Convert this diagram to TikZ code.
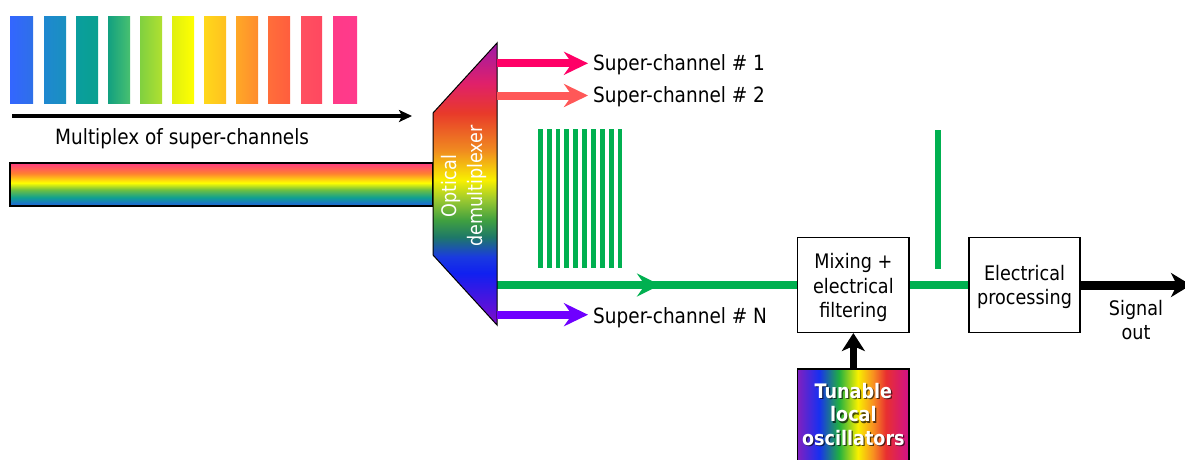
\documentclass[tikz,border=0pt]{standalone}
\usepackage{fontspec}
\setmainfont{DejaVu Sans}[FakeStretch=0.88]
\usetikzlibrary{arrows.meta,backgrounds}

% palette
\definecolor{sigGreen}{HTML}{00B050}
\definecolor{scOne}{HTML}{FF0066}
\definecolor{scTwo}{HTML}{FF5858}
\definecolor{scN}{HTML}{6F00FF}
% spectral bars (left / right tones)
\definecolor{ba}{HTML}{3366FF}\definecolor{bA}{HTML}{2E70E8}
\definecolor{bb}{HTML}{1E88D0}\definecolor{bB}{HTML}{1A90C0}
\definecolor{bc}{HTML}{0A9E9E}\definecolor{bC}{HTML}{0AA090}
\definecolor{bd}{HTML}{12A080}\definecolor{bD}{HTML}{48C070}
\definecolor{be}{HTML}{80D040}\definecolor{bE}{HTML}{B0E030}
\definecolor{bf}{HTML}{E0F010}\definecolor{bF}{HTML}{FFFF00}
\definecolor{bg}{HTML}{FFD81A}\definecolor{bG}{HTML}{FFC020}
\definecolor{bh}{HTML}{FFA826}\definecolor{bH}{HTML}{FF8C2E}
\definecolor{bi}{HTML}{FF6E3A}\definecolor{bI}{HTML}{FF5E3E}
\definecolor{bj}{HTML}{FF5060}\definecolor{bJ}{HTML}{FF4860}
\definecolor{bk}{HTML}{FF3A88}\definecolor{bK}{HTML}{FF3A8C}
% multiplex band
\definecolor{rbBlue}{HTML}{2060E0}
\definecolor{rbTeal}{HTML}{10A090}
\definecolor{rbGreen}{HTML}{70C040}
\definecolor{rbYellow}{HTML}{FFFF00}
\definecolor{rbOrange}{HTML}{FF8030}
\definecolor{rbPink}{HTML}{FF3A80}
% demultiplexer body
\definecolor{dmA}{HTML}{8010C0}
\definecolor{dmB}{HTML}{6010D8}
\definecolor{dmC}{HTML}{1020F0}
\definecolor{dmD}{HTML}{1A3AE0}
\definecolor{dmE}{HTML}{1E7868}
\definecolor{dmF}{HTML}{40A040}
\definecolor{dmG}{HTML}{9AC830}
\definecolor{dmH}{HTML}{F8F000}
\definecolor{dmI}{HTML}{F08A20}
\definecolor{dmJ}{HTML}{E83A2A}
\definecolor{dmK}{HTML}{E0206A}
\definecolor{dmL}{HTML}{9E1AA8}
% local oscillator bank
\definecolor{loA}{HTML}{8020C0}
\definecolor{loB}{HTML}{1830F0}
\definecolor{loC}{HTML}{20B040}
\definecolor{loD}{HTML}{F8F000}
\definecolor{loE}{HTML}{F89020}
\definecolor{loF}{HTML}{E83030}
\definecolor{loG}{HTML}{D0108A}

\pgfdeclareverticalshading{rainbowband}{100bp}{color(0bp)=(rbBlue); color(25bp)=(rbBlue); color(35bp)=(rbTeal); color(44bp)=(rbGreen); color(52bp)=(rbYellow); color(63bp)=(rbOrange); color(75bp)=(rbPink); color(100bp)=(rbPink)}
\pgfdeclareverticalshading{demuxband}{100bp}{color(0bp)=(dmA); color(25bp)=(dmA); color(27.7bp)=(dmB); color(34.2bp)=(dmC); color(37.1bp)=(dmD); color(40.6bp)=(dmE); color(43.6bp)=(dmF); color(47.2bp)=(dmG); color(50.7bp)=(dmH); color(56bp)=(dmI); color(62.6bp)=(dmJ); color(67.9bp)=(dmK); color(75bp)=(dmL); color(100bp)=(dmL)}
\pgfdeclarehorizontalshading{loband}{100bp}{color(0bp)=(loA); color(25bp)=(loA); color(34.5bp)=(loB); color(43.5bp)=(loC); color(52bp)=(loD); color(58.8bp)=(loE); color(64.6bp)=(loF); color(75bp)=(loG); color(100bp)=(loG)}

\begin{document}
\begin{tikzpicture}[x=1pt,y=-1pt,
  chanlabel/.style={font=\fontsize{21}{25}\selectfont, inner sep=0pt, anchor=base west},
  boxtxt/.style={font=\fontsize{20}{24.5}\selectfont, align=center, inner sep=0pt},
  blk/.style={draw=black, line width=1.5pt, fill=white, minimum width=111.3pt, minimum height=94.6pt, inner sep=0pt},
  chan/.style={line width=8pt, -{Stealth[length=24pt,width=23pt,inset=8pt]}},
  fiber/.style={sigGreen, line width=8pt},
  stripe/.style={sigGreen, line width=4.8pt}]
\useasboundingbox (0,0) rectangle (1185,459);

% spectral slots of the incoming super-channels
\foreach \xa/\xb/\cl/\cr in {10/33/ba/bA, 44/66/bb/bB, 76/98/bc/bC, 108/130/bd/bD, 140/162/be/bE,
    172/194/bf/bF, 204/226/bg/bG, 236/258/bh/bH, 268/290/bi/bI, 301/322/bj/bJ, 333/357/bk/bK}
  \shade[left color=\cl, right color=\cr] (\xa,16) rectangle (\xb,103);

\coordinate (mxa) at (12,116);
\coordinate (mxb) at (412,116);
\draw[line width=4pt, -{Stealth[length=13pt,width=12pt,inset=3pt]}] (mxa) -- (mxb);
\node[chanlabel] (mxtxt) at (55,144) {Multiplex of super-channels};

% multiplexed input band
\shadedraw[shading=rainbowband, draw=black, line width=1.2pt] (10,163) rectangle (433,206);

% optical demultiplexer
\coordinate (dmTL) at (433,113);
\coordinate (dmTR) at (497,43);
\coordinate (dmBR) at (497,325);
\coordinate (dmBL) at (433,255);
\shadedraw[shading=demuxband, draw=black, line width=1pt] (dmTL) -- (dmTR) -- (dmBR) -- (dmBL) -- cycle;
\node[boxtxt, text=white, rotate=90, font=\fontsize{20}{26}\selectfont] (dmtxt) at (464,186) {Optical\\demultiplexer};

\coordinate (o1) at (497,63.3);
\coordinate (o2) at (497,95.5);
\coordinate (o3) at (497,285);
\coordinate (oN) at (497,314.7);

\node[chanlabel] (sc1) at (593,70) {Super-channel \# 1};
\node[chanlabel] (sc2) at (593,102.7) {Super-channel \# 2};
\node[chanlabel] (scn) at (593,323.3) {Super-channel \# N};

\draw[chan, scOne] (o1) -- ([xshift=-5pt]o1 -| sc1.west);
\draw[chan, scTwo] (o2) -- ([xshift=-5pt]o2 -| sc2.west);
\draw[chan, scN] (oN) -- ([xshift=-5pt]oN -| scn.west);

% sub-carriers of the selected super-channel
\foreach \k in {0,...,9}
  \draw[stripe] (540.3+8.85*\k,129) -- (540.3+8.85*\k,268);

% receiver blocks
\node[blk] (mix) at (853.35,285) {};
\node[boxtxt, yshift=-2.8pt] (mixtxt) at (mix.center) {Mixing +\\electrical\\filtering};
\node[blk] (elec) at (1024.5,285) {};
\node[boxtxt, yshift=-1.9pt] (electxt) at (elec.center) {Electrical\\processing};

\node[draw=black, line width=1.5pt, shade, shading=loband, minimum width=111.3pt, minimum height=100pt, inner sep=0pt, anchor=north] (lo) at (853.35,368) {};
\node[font=\fontsize{20}{23.5}\selectfont\bfseries, align=center, inner sep=0pt, text=black, opacity=0.65] (loshadow) at (854.6,415.6) {Tunable\\local\\oscillators};
\node[font=\fontsize{20}{23.5}\selectfont\bfseries, align=center, inner sep=0pt, text=white] (lotxt) at (853.35,414.4) {Tunable\\local\\oscillators};

\coordinate (gmid) at (660,285);
\coordinate (tapTop) at (938,130);
\coordinate (tapBot) at (938,269);
\coordinate (sigend) at (1191,285);

\begin{scope}[on background layer]
  \draw[fiber] (o3) -- (mix.west);
  \draw[fiber, -{Stealth[length=23pt,width=23pt,inset=8pt]}] (o3) -- (gmid);
  \draw[fiber] (mix.east) -- (elec.west);
  \draw[line width=7pt, -{Stealth[length=18pt,width=23pt,inset=5pt]}] (lo.north) -- (mix.south);
  \draw[line width=9pt, -{Stealth[length=20pt,width=24pt,inset=6pt]}] (elec.east) -- (sigend);
\end{scope}
\draw[sigGreen, line width=6.5pt] (tapTop) -- (tapBot);

\node[boxtxt] (sigtxt) at (1136,320) {Signal\\out};
\end{tikzpicture}
\end{document}
